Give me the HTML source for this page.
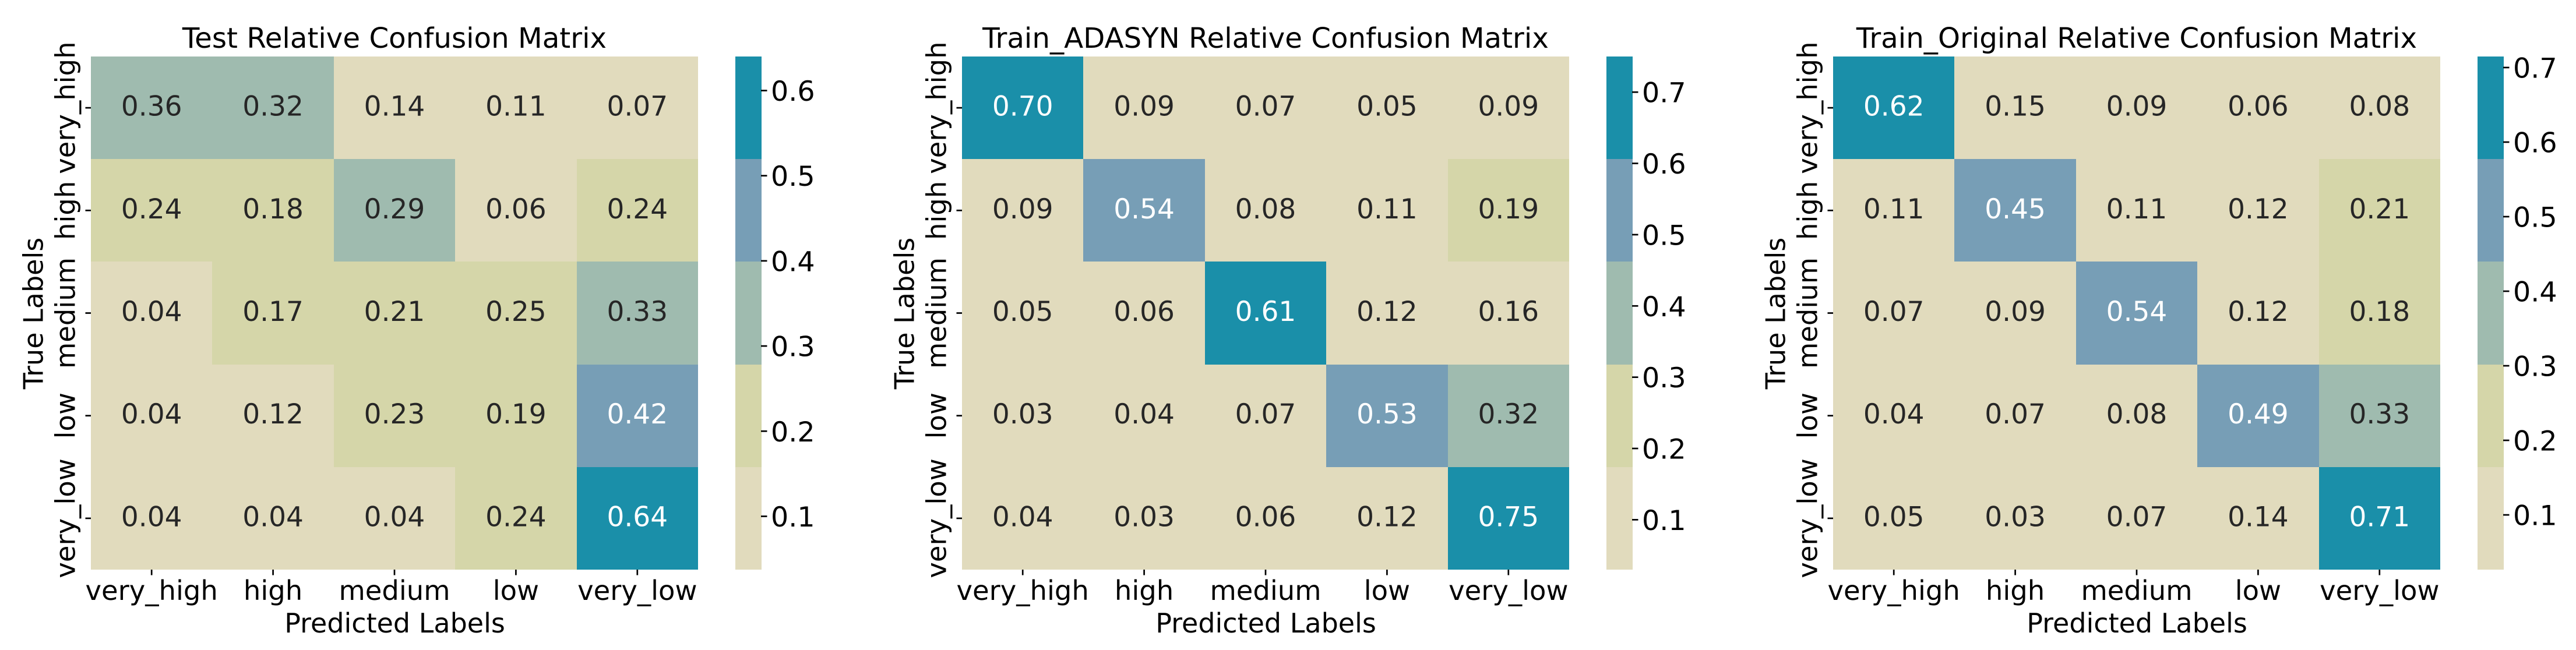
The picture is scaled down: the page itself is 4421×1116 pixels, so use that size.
<!DOCTYPE html>
<html lang="en">
<head>
<meta charset="utf-8">
<title>Relative Confusion Matrices</title>
<style>
html,body{margin:0;padding:0;background:#fff;width:4421px;height:1116px;overflow:hidden}
svg{display:block}
text{font-family:"DejaVu Sans","Liberation Sans",sans-serif;font-size:46.5px;fill:#000}
.chart-title{font-size:48.3px}
.axis-title{font-size:46px}
.cbar-label{font-size:47.5px}
.annot{fill:#262626;font-size:47px}
</style>
</head>
<body>
<svg id="figure" xmlns="http://www.w3.org/2000/svg" width="4421" height="1116" viewBox="0 0 4421 1116">
  <rect width="4421" height="1116" fill="#ffffff"/>
  <g id="panel-test">
    <text class="chart-title" x="677" y="82" text-anchor="middle">Test Relative Confusion Matrix</text>
    <text class="axis-title" x="677.5" y="1086" text-anchor="middle">Predicted Labels</text>
    <text class="axis-title" transform="translate(73.5,538) rotate(-90)" text-anchor="middle">True Labels</text>
  </g>
  <g id="panel-adasyn">
    <text class="chart-title" x="2172" y="82" text-anchor="middle">Train_ADASYN Relative Confusion Matrix</text>
    <text class="axis-title" x="2172.5" y="1086" text-anchor="middle">Predicted Labels</text>
    <text class="axis-title" transform="translate(1568.5,538) rotate(-90)" text-anchor="middle">True Labels</text>
  </g>
  <g id="panel-original">
    <text class="chart-title" x="3667" y="82" text-anchor="middle">Train_Original Relative Confusion Matrix</text>
    <text class="axis-title" x="3667.5" y="1086" text-anchor="middle">Predicted Labels</text>
    <text class="axis-title" transform="translate(3063.5,538) rotate(-90)" text-anchor="middle">True Labels</text>
  </g>
</svg>
<script>
const categories = ["very_high", "high", "medium", "low", "very_low"];
const binColors = ["#e1dbbd", "#d5d6a9", "#9fbbaf", "#779eb6", "#1a8fa9"];

const testValues = [
  [0.36, 0.32, 0.14, 0.11, 0.07],
  [0.24, 0.18, 0.29, 0.06, 0.24],
  [0.04, 0.17, 0.21, 0.25, 0.33],
  [0.04, 0.12, 0.23, 0.19, 0.42],
  [0.04, 0.04, 0.04, 0.24, 0.64]
];
const testColorRange = [0.0374, 0.6396];
const testColorTicks = [0.1, 0.2, 0.3, 0.4, 0.5, 0.6];

const adasynValues = [
  [0.70, 0.09, 0.07, 0.05, 0.09],
  [0.09, 0.54, 0.08, 0.11, 0.19],
  [0.05, 0.06, 0.61, 0.12, 0.16],
  [0.03, 0.04, 0.07, 0.53, 0.32],
  [0.04, 0.03, 0.06, 0.12, 0.75]
];
const adasynColorRange = [0.0325, 0.747];
const adasynColorTicks = [0.1, 0.2, 0.3, 0.4, 0.5, 0.6, 0.7];

const originalValues = [
  [0.62, 0.15, 0.09, 0.06, 0.08],
  [0.11, 0.45, 0.11, 0.12, 0.21],
  [0.07, 0.09, 0.54, 0.12, 0.18],
  [0.04, 0.07, 0.08, 0.49, 0.33],
  [0.05, 0.03, 0.07, 0.14, 0.71]
];
const originalColorRange = [0.0266, 0.7148];
const originalColorTicks = [0.1, 0.2, 0.3, 0.4, 0.5, 0.6, 0.7];

const SVG_NS = "http://www.w3.org/2000/svg";
const plotTop = 97, plotBottom = 978, plotWidth = 1042;
const plotHeight = plotBottom - plotTop;

function svgEl(tag, attrs, parent) {
  const el = document.createElementNS(SVG_NS, tag);
  for (const k in attrs) el.setAttribute(k, attrs[k]);
  parent.appendChild(el);
  return el;
}

function drawPanel(group, prefix, plotLeft, values, colorRange, colorTicks) {
  const flat = values.flat();
  const vmin = Math.min(colorRange[0], ...flat);
  const vmax = Math.max(colorRange[1], ...flat);
  const nRows = values.length, nCols = values[0].length;
  const xAxis = c => plotLeft + (c / nCols) * plotWidth;
  const yAxis = r => plotTop + (r / nRows) * plotHeight;
  const binOf = v => Math.min(binColors.length - 1, Math.max(0, Math.floor((v - vmin) / (vmax - vmin) * binColors.length)));

  values.forEach((row, r) => {
    row.forEach((v, c) => {
      const x0 = Math.round(xAxis(c)), x1 = Math.round(xAxis(c + 1));
      const y0 = Math.round(yAxis(r)), y1 = Math.round(yAxis(r + 1));
      const bin = binOf(v);
      const cell = svgEl("rect", {x: x0, y: y0, width: x1 - x0, height: y1 - y0, fill: binColors[bin], "shape-rendering": "crispEdges"}, group);
      
      
    });
  });

  values.forEach((row, r) => {
    row.forEach((v, c) => {
      const bin = binOf(v);
      const label = svgEl("text", {x: xAxis(c + 0.5), y: yAxis(r + 0.5) + 13.5, "text-anchor": "middle", class: "annot"}, group);
      
      
      label.textContent = v.toFixed(2);
      if (bin >= 3) label.style.fill = "#ffffff";
    });
  });

  categories.forEach((name, c) => {
    const cx = xAxis(c + 0.5);
    const tick = svgEl("line", {x1: cx, x2: cx, y1: plotBottom, y2: plotBottom + 9.5, stroke: "#000", "stroke-width": 2.7}, group);
    
    
    const label = svgEl("text", {x: cx, y: 1030, "text-anchor": "middle"}, group);
    
    
    label.textContent = name;
  });

  categories.forEach((name, r) => {
    const cy = yAxis(r + 0.5);
    const tick = svgEl("line", {x1: plotLeft - 9.5, x2: plotLeft, y1: cy, y2: cy, stroke: "#000", "stroke-width": 2.7}, group);
    
    
    const label = svgEl("text", {transform: "translate(" + (plotLeft - 27.7) + "," + cy + ") rotate(-90)", "text-anchor": "middle"}, group);
    
    
    label.textContent = name;
  });

  const barLeft = plotLeft + 1106, barWidth = 45;
  const barY = v => plotBottom - (v - vmin) / (vmax - vmin) * plotHeight;
  binColors.forEach((color, i) => {
    const lo = vmin + (vmax - vmin) * i / binColors.length;
    const hi = vmin + (vmax - vmin) * (i + 1) / binColors.length;
    const y0 = Math.round(barY(hi)), y1 = Math.round(barY(lo));
    const seg = svgEl("rect", {x: barLeft, y: y0, width: barWidth, height: y1 - y0, fill: color, "shape-rendering": "crispEdges"}, group);
    
    
  });
  colorTicks.forEach(t => {
    const y = barY(t);
    const tick = svgEl("line", {x1: barLeft + barWidth - 1, x2: barLeft + barWidth + 9.5, y1: y, y2: y, stroke: "#000", "stroke-width": 2.7}, group);
    
    
    const label = svgEl("text", {x: barLeft + barWidth + 16, y: y + 17.5, class: "cbar-label"}, group);
    
    
    label.textContent = t.toFixed(1);
  });
}

drawPanel(document.getElementById("panel-test"), "test", 156, testValues, testColorRange, testColorTicks);
drawPanel(document.getElementById("panel-adasyn"), "train-adasyn", 1651, adasynValues, adasynColorRange, adasynColorTicks);
drawPanel(document.getElementById("panel-original"), "train-original", 3146, originalValues, originalColorRange, originalColorTicks);
</script>
</body>
</html>
